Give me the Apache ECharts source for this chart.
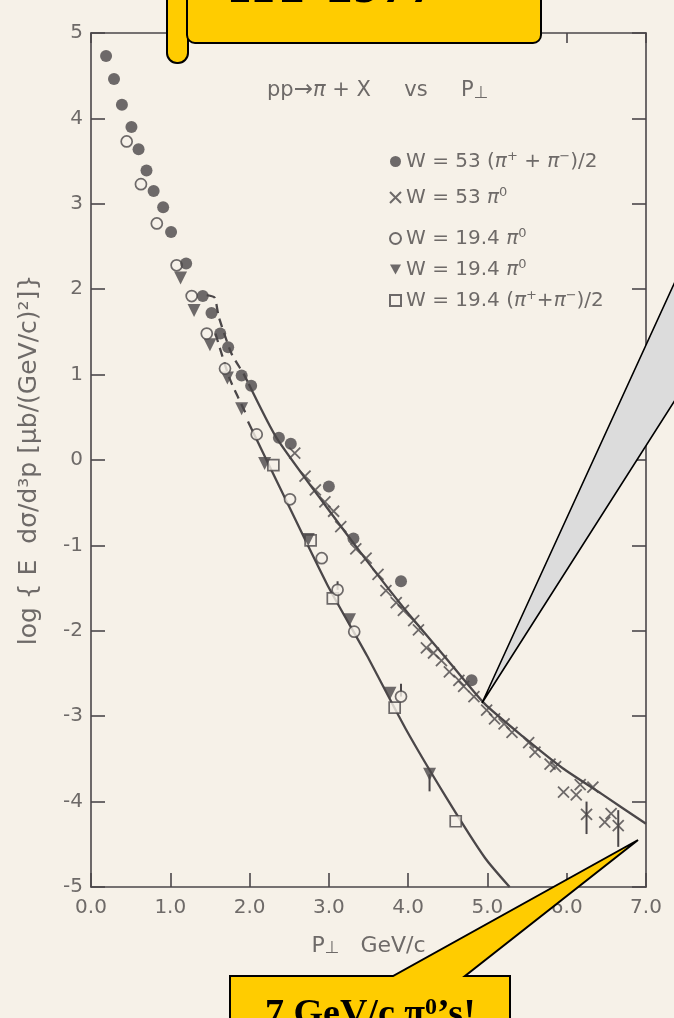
<!DOCTYPE html>
<html>
<head>
<meta charset="utf-8">
<script src="https://cdn.jsdelivr.net/npm/echarts@6/dist/echarts.min.js"></script>
<style>
  html, body { margin: 0; padding: 0; background: #f6f1e8; }
  #chart { width: 674px; height: 1018px; }
</style>
</head>
<body>
<div id="chart"></div>
<script>
// 차트 데이터 (그림에서 읽은 값: [P⊥, log E dσ/d³p])
const xTicks = [0, 1, 2, 3, 4, 5, 6, 7];
const yTicks = [5, 4, 3, 2, 1, 0, -1, -2, -3, -4, -5];

// W = 53 (π+ + π-)/2 : 채워진 원
const charged53 = [[0.19,4.73],[0.29,4.46],[0.39,4.16],[0.51,3.90],[0.60,3.64],[0.70,3.39],[0.79,3.15],[0.91,2.96],[1.01,2.67],[1.20,2.30],[1.41,1.92],[1.52,1.72],[1.63,1.48],[1.73,1.32],[1.90,0.99],[2.02,0.87],[2.37,0.26],[2.52,0.19],[3.00,-0.31],[3.31,-0.92],[3.91,-1.42],[4.80,-2.58]];
// W = 53 π0 : ×
const neutral53 = [[2.57,0.08],[2.70,-0.19],[2.83,-0.35],[2.95,-0.49],[3.06,-0.60],[3.15,-0.78],[3.34,-1.04],[3.47,-1.15],[3.62,-1.34],[3.72,-1.53],[3.85,-1.67],[3.94,-1.76],[4.07,-1.88],[4.13,-1.99],[4.23,-2.20],[4.32,-2.26],[4.42,-2.35],[4.52,-2.48],[4.64,-2.58],[4.70,-2.65],[4.83,-2.77],[4.99,-2.93],[5.09,-3.03],[5.21,-3.09],[5.31,-3.19],[5.52,-3.31],[5.60,-3.42],[5.79,-3.56],[5.86,-3.59],[5.96,-3.89],[6.12,-3.92],[6.17,-3.80],[6.33,-3.83],[6.25,-4.15],[6.48,-4.24],[6.56,-4.14],[6.65,-4.28]];
// W = 19.4 π0 : 빈 원
const neutral19open = [[0.45,3.73],[0.63,3.23],[0.83,2.77],[1.08,2.28],[1.27,1.92],[1.46,1.48],[1.69,1.07],[2.09,0.30],[2.51,-0.46],[2.91,-1.15],[3.11,-1.52],[3.32,-2.01],[3.91,-2.77]];
// W = 19.4 π0 : 역삼각형
const neutral19tri = [[1.13,2.13],[1.30,1.75],[1.50,1.35],[1.72,0.96],[1.90,0.60],[2.19,-0.04],[2.74,-0.93],[3.26,-1.87],[3.77,-2.73],[4.27,-3.68]];
// W = 19.4 (π+ + π-)/2 : 빈 사각형
const charged19 = [[2.30,-0.06],[2.77,-0.94],[3.05,-1.62],[3.83,-2.90],[4.60,-4.23]];
// 오차 막대 [x, 아래, 위]
const errorBars = [[3.91,-2.77,-2.62],[3.11,-1.52,-1.42],[4.27,-3.88,-3.68],[6.25,-4.38,-4.00],[6.65,-4.53,-4.10]];

// 곡선 (fit)
const upperDashed = [[1.46,1.93],[1.56,1.90],[1.61,1.68],[1.77,1.25],[1.93,1.00],[1.99,0.89]];
const upperSolid = [[1.99,0.89],[2.34,0.26],[2.97,-0.55],[3.47,-1.17],[3.96,-1.75],[4.46,-2.30],[4.96,-2.85],[5.45,-3.24],[5.95,-3.61],[6.44,-3.91],[7.0,-4.26]];
const lowerDashed = [[1.57,1.48],[1.75,0.95],[1.96,0.53]];
const lowerSolid = [[1.98,0.45],[2.48,-0.51],[2.98,-1.46],[3.48,-2.29],[3.97,-3.15],[4.48,-3.95],[4.97,-4.66],[5.28,-5.0]];

const ink = '#4b4749';
const paper = '#f6f1e8';
const textColor = '#6e6a68';
const font = 'DejaVu Sans';

const legendNames = {
    c53: 'W = 53 ({pi|π}{sup|+} + {pi|π}{sup|−})/2',
    n53: 'W = 53 {pi|π}{sup|0}',
    o19: 'W = 19.4 {pi|π}{sup|0}',
    t19: 'W = 19.4 {pi|π}{sup|0}',
    c19: 'W = 19.4 ({pi|π}{sup|+}+{pi|π}{sup|−})/2'
};
const richText = {
    pi: { fontStyle: 'italic', fontSize: 20, fontFamily: font, color: textColor },
    sup: { fontSize: 13, fontFamily: font, color: textColor, verticalAlign: 'top', lineHeight: 12 },
    sub: { fontSize: 17, fontFamily: font, color: textColor, verticalAlign: 'bottom', lineHeight: 14 },
    p: { fontSize: 22, fontFamily: font, color: textColor }
};

const chart = echarts.init(document.getElementById('chart'));

function lineSeries(data, dashed) {
    return {
        type: 'line', data: data, smooth: 0.2, showSymbol: false, silent: true,
        lineStyle: { color: ink, width: 2.3, type: dashed ? [9, 6] : 'solid' }, z: 1
    };
}

const openStyle = { color: paper, borderColor: ink, borderWidth: 1.7 };
const axisLineStyle = { onZero: false, lineStyle: { color: ink, width: 1.6 } };

const option = {
    backgroundColor: paper,
    animation: false,
    grid: { left: 91, right: 28, top: 33, bottom: 131 },
    xAxis: [{
        type: 'value', min: 0, max: 7, interval: 1,
        name: '{p|P}{sub|⊥}   GeV/c', nameLocation: 'middle', nameGap: 48,
        nameTextStyle: { fontSize: 22, fontFamily: font, color: textColor, rich: richText },
        axisLine: axisLineStyle,
        axisTick: { inside: true, length: 14, lineStyle: { color: ink, width: 1.6 } },
        axisLabel: { margin: 11, fontSize: 20, fontFamily: font, color: textColor,
            formatter: v => xTicks.includes(v) ? v.toFixed(1) : '' },
        splitLine: { show: false }
    }, {
        type: 'value', min: 0, max: 7, interval: 1, position: 'top',
        axisLine: axisLineStyle,
        axisTick: { inside: true, length: 10, lineStyle: { color: ink, width: 1.6 } },
        axisLabel: { show: false }, splitLine: { show: false }
    }],
    yAxis: [{
        type: 'value', min: -5, max: 5, interval: 1,
        name: 'log { E  dσ/d³p [μb/(GeV/c)²]}', nameLocation: 'middle', nameGap: 49,
        nameTextStyle: { fontSize: 25, fontFamily: font, color: textColor },
        axisLine: axisLineStyle,
        axisTick: { inside: true, length: 14, lineStyle: { color: ink, width: 1.6 } },
        axisLabel: { margin: 8, fontSize: 20, fontFamily: font, color: textColor,
            formatter: v => yTicks.includes(v) ? String(v) : '' },
        splitLine: { show: false }
    }, {
        type: 'value', min: -5, max: 5, interval: 1, position: 'right',
        axisLine: axisLineStyle,
        axisTick: { inside: true, length: 14, lineStyle: { color: ink, width: 1.6 } },
        axisLabel: { show: false }, splitLine: { show: false }
    }],
    legend: [{
        data: ['c53', 'n53'],
        orient: 'vertical', left: 384, top: 145, itemGap: 13,
        itemWidth: 11, itemHeight: 11,
        formatter: n => legendNames[n],
        textStyle: { fontSize: 20, fontFamily: font, color: textColor, lineHeight: 23, rich: richText }
    }, {
        data: ['o19', 't19', 'c19'],
        orient: 'vertical', left: 384, top: 222, itemGap: 8,
        itemWidth: 11, itemHeight: 11,
        formatter: n => legendNames[n],
        textStyle: { fontSize: 20, fontFamily: font, color: textColor, lineHeight: 23, rich: richText }
    }],
    series: [
        lineSeries(upperDashed, true),
        lineSeries(upperSolid, false),
        lineSeries(lowerDashed, true),
        lineSeries(lowerSolid, false),
        {
            type: 'custom', silent: true, z: 2,
            data: errorBars,
            renderItem: function (params, api) {
                const lo = api.coord([api.value(0), api.value(1)]);
                const hi = api.coord([api.value(0), api.value(2)]);
                return { type: 'line', shape: { x1: lo[0], y1: lo[1], x2: hi[0], y2: hi[1] },
                    style: { stroke: ink, lineWidth: 2 } };
            }
        },
        { name: 'n53', type: 'scatter', data: neutral53, symbol: 'path://M0,0L10,10M10,0L0,10', symbolSize: 11,
          itemStyle: { color: 'rgba(0,0,0,0)', borderColor: ink, borderWidth: 1.8 }, z: 3 },
        { name: 'c19', type: 'scatter', data: charged19, symbol: 'rect', symbolSize: 11, itemStyle: openStyle, z: 3 },
        { name: 't19', type: 'scatter', data: neutral19tri, symbol: 'path://M0,0L10,0L5,9Z', symbolSize: 13,
          itemStyle: { color: ink }, z: 3 },
        { name: 'o19', type: 'scatter', data: neutral19open, symbol: 'circle', symbolSize: 11, itemStyle: openStyle, z: 4 },
        { name: 'c53', type: 'scatter', data: charged53, symbol: 'circle', symbolSize: 12, itemStyle: { color: ink }, z: 4 }
    ],
    graphic: [
        // 반응식 제목
        { type: 'text', left: 267, top: 79, z: 10,
          style: { text: 'pp{ar|→}{pi|π} + X     vs     P{sub|⊥}', fontSize: 21, fontFamily: font, fill: textColor,
                   rich: { ar: { fontSize: 23, fontFamily: font, color: textColor },
                           pi: { fontStyle: 'italic', fontSize: 21, fontFamily: font, color: textColor }, sub: richText.sub } } },
        // 회색 말풍선 꼬리
        { type: 'polygon', z: 20, shape: { points: [[482, 703], [684, 262], [684, 386]] },
          style: { fill: '#dcdcdc', stroke: '#000', lineWidth: 1.6 } },
        // 상단 노란 배너
        { type: 'rect', z: 21, shape: { x: 167, y: -20, width: 21, height: 83, r: [0, 0, 10, 10] },
          style: { fill: '#ffcc00', stroke: '#000', lineWidth: 2 } },
        { type: 'rect', z: 22, shape: { x: 187, y: -20, width: 354, height: 63, r: [0, 0, 8, 8] },
          style: { fill: '#ffcc00', stroke: '#000', lineWidth: 2 } },
        { type: 'text', z: 23, x: 230, y: 16,
          style: { text: 'HT 1977', fontSize: 56, fontWeight: 'bold', fontFamily: 'Liberation Serif', fill: '#000',
                   verticalAlign: 'bottom' } },
        // 하단 노란 말풍선
        { type: 'polygon', z: 24,
          shape: { points: [[230, 976], [393, 976], [638, 840], [465, 976], [510, 976], [510, 1040], [230, 1040]] },
          style: { fill: '#ffcc00', stroke: '#000', lineWidth: 2 } },
        { type: 'text', z: 25, x: 265, y: 996,
          style: { text: '7 GeV/c π{s|0}’s!', fontSize: 38, fontWeight: 'bold', fontFamily: 'Liberation Serif', fill: '#000',
                   rich: { s: { fontSize: 24, fontWeight: 'bold', fontFamily: 'Liberation Serif', color: '#000', verticalAlign: 'top', lineHeight: 20 } } } }
    ]
};

chart.setOption(option);
</script>
</body>
</html>
